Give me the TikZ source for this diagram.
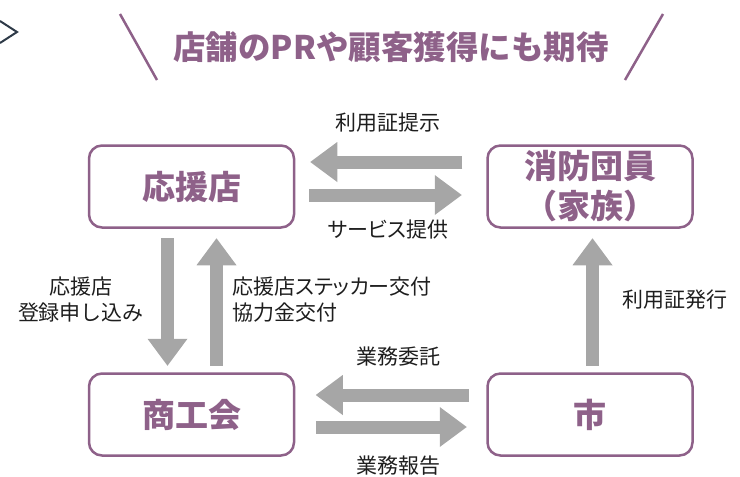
\documentclass[tikz,border=0pt]{standalone}
\usepackage{fontspec}
\setmainfont{Noto Sans CJK JP}
\newfontfamily\cjkp[RawFeature=+palt]{Noto Sans CJK JP}
\usetikzlibrary{arrows.meta}
\definecolor{purp}{HTML}{8E6189}
\definecolor{arrg}{HTML}{A6A6A6}
\definecolor{ink}{HTML}{1E1E1E}
\definecolor{chev}{HTML}{2E3A48}
\begin{document}
\begin{tikzpicture}[x=1pt,y=-1pt,
  box/.style={draw=purp, line width=2.5pt, rounded corners=13pt, minimum width=205pt, minimum height=82pt, inner sep=0pt, text=purp, font=\fontsize{33}{40}\selectfont\bfseries, align=center},
  lbl/.style={text=ink, font=\fontsize{21}{26}\selectfont, inner sep=0pt, align=center},
  blk/.style={draw=arrg, line width=13pt, -{Triangle[length=27pt,width=40pt,line width=0pt,fill=arrg]}},
  slash/.style={draw=purp, line width=2.5pt}
]
\useasboundingbox (0,0) rectangle (740,477);
% chevron
\draw[chev, line width=2pt] (0,21) -- (17,32) -- (0,43);
% title
\node[text=purp, font=\fontsize{32.5}{38}\selectfont\bfseries, inner sep=0pt] (title) at (391,47) {店舗のPRや顧客獲得にも期待};
\coordinate (s1a) at (120,14); \coordinate (s1b) at (157,80);
\coordinate (s2a) at (663,14); \coordinate (s2b) at (625,80);
\draw[slash] (s1a) -- (s1b);
\draw[slash] (s2a) -- (s2b);
% boxes
\node[box] (oen) at (191.5,186.5) {応援店};
\node[box] (sho) at (590,186.5) {消防団員\\（家族）};
\node[box] (shk) at (191.5,414.5) {商工会};
\node[box] (shi) at (590,414.5) {市};
% top arrows
\draw[blk] ([shift={(-24,-24.5)}]sho.west) -- ([shift={(15,-24.5)}]oen.east);
\draw[blk] ([shift={(14,8.5)}]oen.east) -- ([shift={(-24.5,8.5)}]sho.west);
% left vertical arrows
\draw[blk] ([shift={(-24,9.5)}]oen.south) -- ([shift={(-24,-6.5)}]shk.north);
\draw[blk] ([shift={(25,-6.5)}]shk.north) -- ([shift={(25,9.5)}]oen.south);
% right vertical arrow
\draw[blk] ([shift={(2.5,-6.5)}]shi.north) -- ([shift={(2.5,9.5)}]sho.south);
% bottom arrows
\draw[blk] ([shift={(-17.5,-19.5)}]shi.west) -- ([shift={(20.5,-19.5)}]shk.east);
\draw[blk] ([shift={(20.5,12.5)}]shk.east) -- ([shift={(-19.5,12.5)}]shi.west);
% labels
\node[lbl] (l1) at (388,123) {利用証提示};
\node[lbl, font=\fontsize{21}{26}\selectfont\cjkp] (l2) at (388,230) {サービス提供};
\node[lbl] (l3) at (81,300) {応援店\\登録申し込み};
\node[lbl, anchor=west, align=left, font=\fontsize{21}{26}\selectfont\cjkp] (l4) at (232,300) {応援店ステッカー交付\\協力金交付};
\node[lbl, anchor=west] (l5) at (622,300) {利用証発行};
\node[lbl] (l6) at (398,357) {業務委託};
\node[lbl] (l7) at (398,466) {業務報告};
\end{tikzpicture}
\end{document}
